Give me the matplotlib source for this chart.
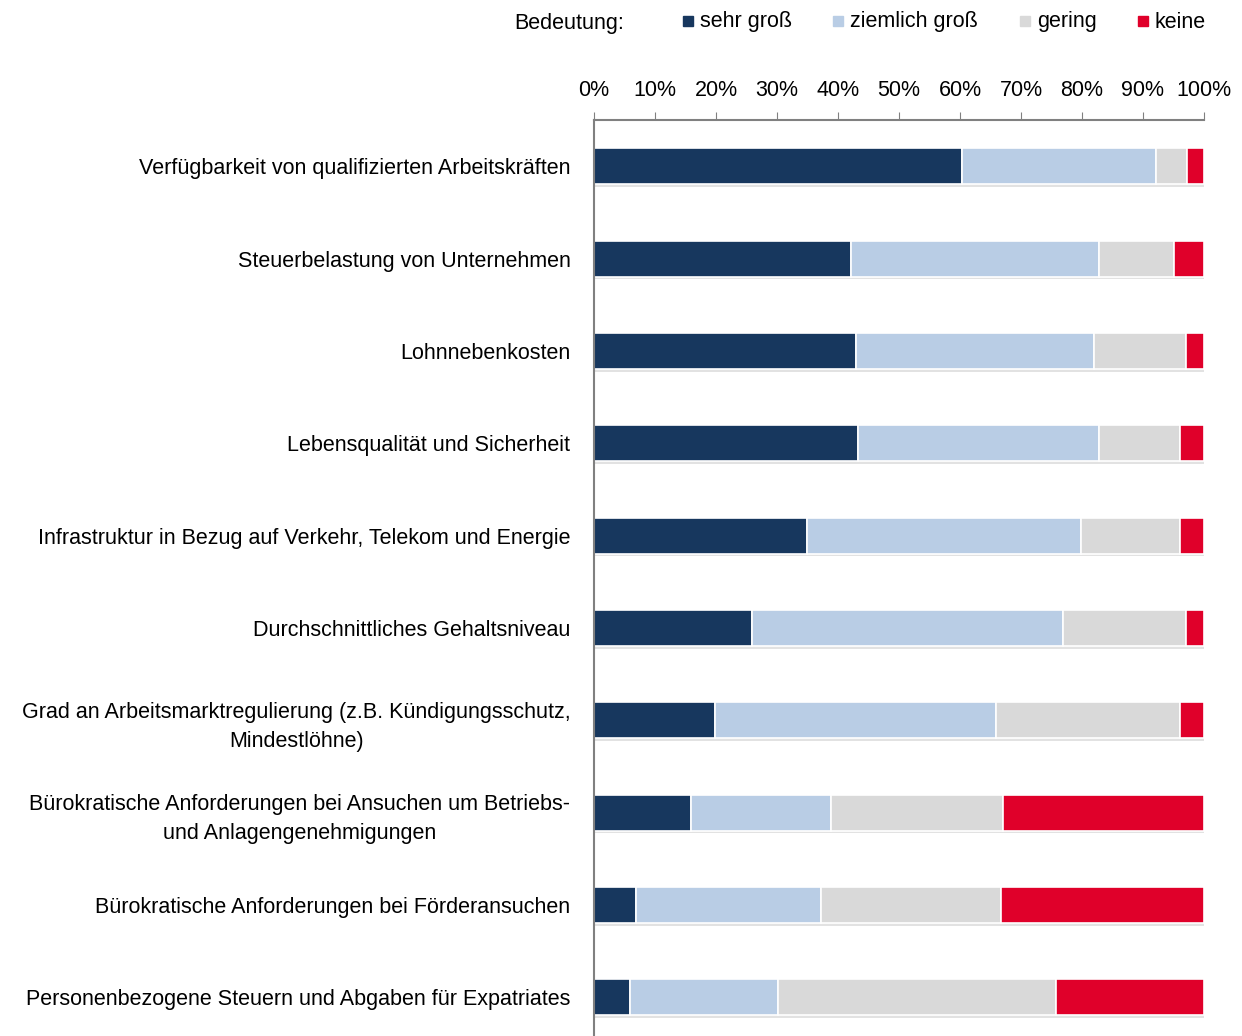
import matplotlib
matplotlib.use("Agg")
from matplotlib import pyplot as plt
from matplotlib import patheffects as pe
from matplotlib.patches import Rectangle

plt.rcParams['font.family'] = ['Liberation Sans', 'DejaVu Sans']

categories = [
    "Verfügbarkeit von qualifizierten Arbeitskräften",
    "Steuerbelastung von Unternehmen",
    "Lohnnebenkosten",
    "Lebensqualität und Sicherheit",
    "Infrastruktur in Bezug auf Verkehr, Telekom und Energie",
    "Durchschnittliches Gehaltsniveau",
    "Grad an Arbeitsmarktregulierung (z.B. Kündigungsschutz,\nMindestlöhne)",
    "Bürokratische Anforderungen bei Ansuchen um Betriebs-\nund Anlagengenehmigungen",
    "Bürokratische Anforderungen bei Förderansuchen",
    "Personenbezogene Steuern und Abgaben für Expatriates",
]
sehr_gross = [60.3, 42.1, 43.0, 43.3, 34.9, 25.9, 19.8, 15.9, 6.9, 5.9]
ziemlich_gross = [31.8, 40.7, 39.0, 39.5, 44.9, 51.0, 46.1, 23.0, 30.3, 24.3]
gering = [5.1, 12.3, 15.0, 13.3, 16.3, 20.1, 30.2, 28.1, 29.5, 45.5]
keine = [2.8, 4.9, 3.0, 3.9, 3.9, 3.0, 3.9, 33.0, 33.3, 24.3]

series = [("sehr groß", sehr_gross, "#17375e"),
          ("ziemlich groß", ziemlich_gross, "#b9cde5"),
          ("gering", gering, "#d9d9d9"),
          ("keine", keine, "#e0002a")]

fig = plt.figure(figsize=(12.42, 10.36), dpi=100)
ax = fig.add_axes([594/1242, 0, 610/1242, 1 - 120/1036])

y = list(range(len(categories)))
left = [0.0] * len(categories)
shadow = [pe.SimplePatchShadow(offset=(1, -2), shadow_rgbFace="#a0a0a0", alpha=0.3), pe.Normal()]
for name, vals, col in series:
    bars = ax.barh(y, vals, left=left, height=0.39, color=col, edgecolor="white", linewidth=1.2)
    for b in bars:
        b.set_path_effects(shadow)
    left = [l + v for l, v in zip(left, vals)]

ax.set_xlim(0, 100)
ax.set_ylim(9.42, -0.5)
ax.xaxis.tick_top()
ax.set_xticks(range(0, 101, 10))
ax.set_xticklabels([f"{t}%" for t in range(0, 101, 10)], fontsize=15.5)
ax.set_yticks(y)
ax.set_yticklabels(categories, fontsize=15.5, linespacing=1.5)
for lab in ax.get_yticklabels():
    lab.set_multialignment("center")
ax.tick_params(axis="x", direction="out", length=6, color="#808080", pad=8)
ax.tick_params(axis="y", length=0, pad=17)
for s in ["right", "bottom"]:
    ax.spines[s].set_visible(False)
for s in ["top", "left"]:
    ax.spines[s].set_color("#808080")
    ax.spines[s].set_linewidth(1.5)

# legend
fig.text(514/1242, 1 - 23/1036, "Bedeutung:", fontsize=15.5, va="center", ha="left")
leg_x = [683, 833, 1020, 1138]
for (name, vals, col), lx in zip(series, leg_x):
    fig.patches.append(Rectangle((lx/1242, 1 - 26/1036), 10/1242, 10/1036,
                                 transform=fig.transFigure, color=col))
    fig.text((lx + 17)/1242, 1 - 22/1036, name, fontsize=15.5, va="center", ha="left")

fig.savefig("out.png", dpi=100)
